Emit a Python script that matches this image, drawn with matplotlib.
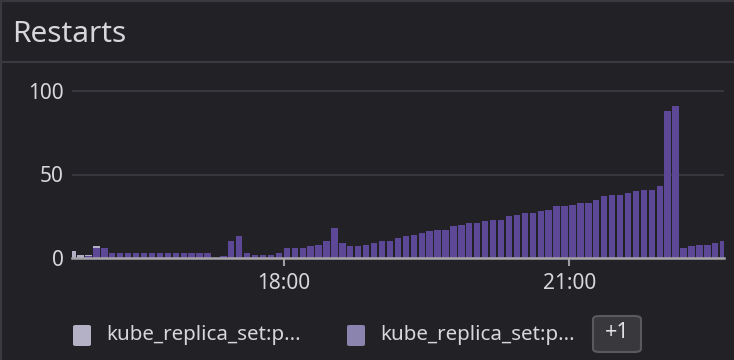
import matplotlib
matplotlib.use("Agg")
import matplotlib.pyplot as plt
import matplotlib.dates as mdates
from matplotlib.patches import FancyBboxPatch
import numpy as np
import pandas as pd

# ---------------- data ----------------
title = "Restarts"
start_time = "2024-01-01 15:45"
n_bars = 83
series_names = ["kube_replica_set:p...", "kube_replica_set:p...", "+1"]
# bottom series (purple, the hidden "+1" series)
s_purple = [0, 0, 1, 6, 6,
            3, 3, 3, 3, 3, 3, 3, 3, 3, 3, 3, 3, 3,
            0, 1, 10, 13, 3, 2, 2, 2, 3,
            6, 6, 6, 7, 8, 10, 18, 9, 7, 7, 8, 9, 10, 10,
            12, 13, 14, 15, 16, 17, 17, 19, 20, 21, 21, 22, 23, 23, 25, 26, 27, 27, 28, 29,
            31, 31, 32, 33, 33, 35, 37, 38, 38, 39, 40, 41, 41, 43,
            88, 91, 6, 7, 8, 8, 9, 10]
s_medium = [0] * n_bars
s_light = [4, 2, 1, 1] + [0] * (n_bars - 4)
y_ticks = [0, 50, 100]
y_ticklabels = ["0", "50", "100"]
x_ticks = ["2024-01-01 18:00", "2024-01-01 21:00"]
x_ticklabels = ["18:00", "21:00"]
x_limits = ["2024-01-01 15:46:36", "2024-01-01 22:37:30"]

# ---------------- style ----------------
W, H = 734, 360
BG = "#222126"
BORDER = "#3a393f"
TEXT = "#d6d6db"
C_PURPLE = "#5d4898"
C_MEDIUM = "#8a84ae"
C_LIGHT = "#b4b1c7"
FONT = "Noto Sans"

fig = plt.figure(figsize=(W / 100, H / 100), dpi=100)
fig.patch.set_facecolor(BG)

def fx(px):
    return px / W

def fy(py):
    return 1 - py / H

# panel borders
fig.add_artist(plt.Line2D([0, 1], [fy(1), fy(1)], color=BORDER, lw=1.6))
fig.add_artist(plt.Line2D([fx(1), fx(1)], [0, 1], color=BORDER, lw=1.6))
fig.add_artist(plt.Line2D([0, 1], [fy(62), fy(62)], color=BORDER, lw=1.6))

fig.text(fx(12), fy(34), title, fontsize=21.5, color=TEXT, family=FONT,
         ha="left", va="center")

# axes
ax_left, ax_right, ax_top, ax_bottom = 72, 724, 82.6, 258
ax = fig.add_axes([fx(ax_left), fy(ax_bottom), fx(ax_right - ax_left), (ax_bottom - ax_top) / H])
ax.set_facecolor(BG)

times = pd.date_range(start_time, periods=n_bars, freq="5min")
xnum = mdates.date2num(times.to_pydatetime())
width = 4 / 1440
p = np.array(s_purple, dtype=float)
m = np.array(s_medium, dtype=float)
l = np.array(s_light, dtype=float)
ax.bar(xnum, p, width=width, align="edge", color=C_PURPLE, zorder=3)
ax.bar(xnum, m, width=width, align="edge", bottom=p, color=C_MEDIUM, zorder=3)
ax.bar(xnum, l, width=width, align="edge", bottom=p + m, color=C_LIGHT, zorder=3)

ax.set_xlim(mdates.date2num(pd.Timestamp(x_limits[0])), mdates.date2num(pd.Timestamp(x_limits[1])))
ax.set_ylim(0, (ax_bottom - ax_top) / 1.67)

ax.set_yticks(y_ticks)
ax.set_yticklabels(y_ticklabels)
ax.set_xticks([mdates.date2num(pd.Timestamp(t)) for t in x_ticks])
ax.set_xticklabels(x_ticklabels)

for s in ["top", "right", "left"]:
    ax.spines[s].set_visible(False)
ax.spines["bottom"].set_color("#a4a4a9")
ax.spines["bottom"].set_linewidth(1.8)
ax.spines["bottom"].set_zorder(4)

ax.grid(axis="y", color="#3b3a40", lw=1.3, zorder=0)
ax.tick_params(axis="y", length=0, pad=6, labelsize=15, labelcolor=TEXT)
ax.tick_params(axis="x", length=6, width=1.5, color="#9d9da2", pad=5,
               labelsize=15, labelcolor=TEXT)
for lab in ax.get_xticklabels() + ax.get_yticklabels():
    lab.set_family(FONT)

# legend (custom)
def legend_item(x, color, text):
    fig.add_artist(FancyBboxPatch((fx(x), fy(346)), fx(18), (346 - 325) / H,
                                  boxstyle="round,pad=0,rounding_size=0.004",
                                  facecolor=color, edgecolor="none",
                                  transform=fig.transFigure))
    fig.text(fx(x + 33), fy(335), text, fontsize=14.8, color=TEXT, family=FONT,
             ha="left", va="center")

legend_item(73, C_LIGHT, series_names[0])
legend_item(347, C_MEDIUM, series_names[1])
fig.add_artist(FancyBboxPatch((fx(593), fy(352)), fx(48), (352 - 316) / H,
                              boxstyle="round,pad=0,rounding_size=0.009",
                              facecolor="#39383d", edgecolor="#5a595e", lw=1.5,
                              transform=fig.transFigure))
fig.text(fx(617), fy(333), series_names[2], fontsize=15.5, color="#e2e2e6",
         family=FONT, ha="center", va="center")

fig.savefig("out.png", dpi=100, facecolor=BG)
